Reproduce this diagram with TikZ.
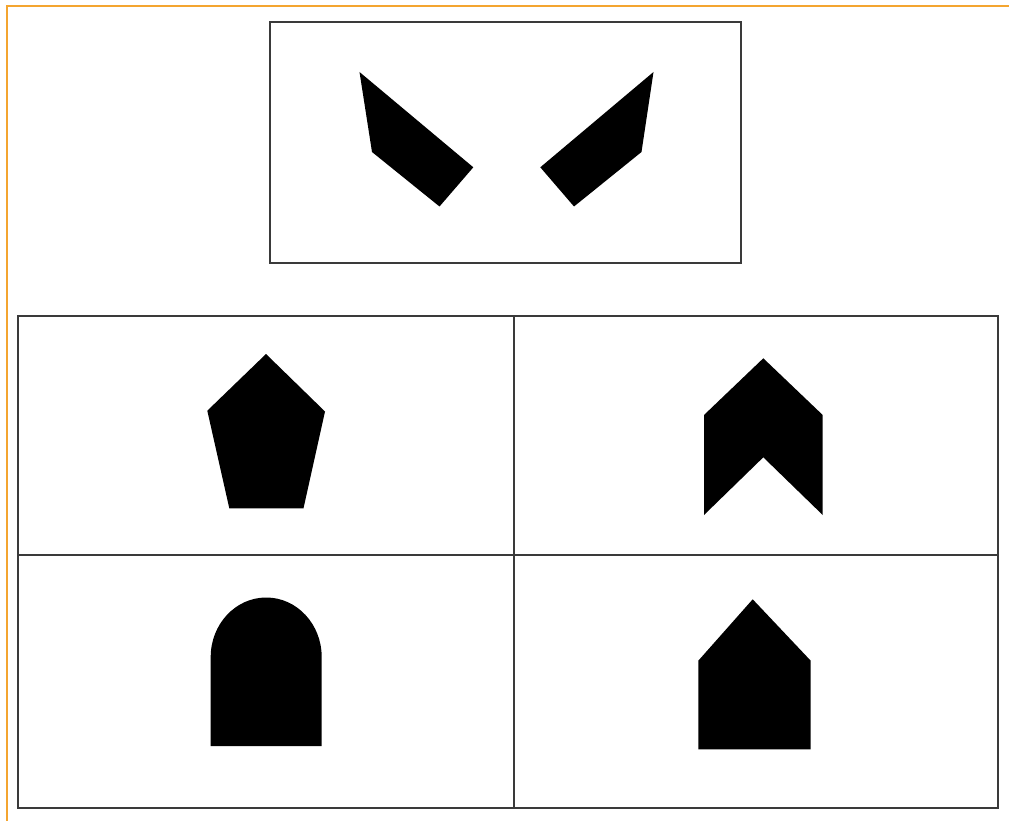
\documentclass[tikz,border=0pt]{standalone}
\definecolor{frameorange}{HTML}{F4A530}
\definecolor{boxgray}{HTML}{3A3A3A}
\begin{document}
\begin{tikzpicture}[x=1pt,y=-1pt,
  panel/.style={draw=boxgray,line width=1.3pt},
  shapefill/.style={fill=black,draw=none},
  orangeline/.style={draw=frameorange,line width=1.8pt}]
\useasboundingbox (0,0) rectangle (1009,821);
\fill[white] (0,0) rectangle (1009,821);
% orange frame edges
\draw[orangeline] (7,821) -- (7,6) -- (1009,6);
% top panel
\draw[panel] (270,22) rectangle (741,263);
\fill[shapefill] (359.5,72) -- (372,152) -- (439.5,206.5) -- (473.3,167.3) -- cycle;
\fill[shapefill] (653.5,72) -- (641.5,152) -- (574,206.5) -- (540.3,167.3) -- cycle;
% grid
\draw[panel] (18,316) rectangle (998,808);
\draw[panel] (514,316) -- (514,808);
\draw[panel] (18,555) -- (998,555);
% pentagon
\fill[shapefill] (266,354) -- (325,411.5) -- (303.5,508.3) -- (229.3,508.3) -- (207.3,410.7) -- cycle;
% chevron
\fill[shapefill] (763.3,358.3) -- (822.7,415) -- (822.7,515) -- (763.3,457.3) -- (704,515) -- (704,415) -- cycle;
% arch
\fill[shapefill] (210.7,746) -- (210.7,657) arc[start angle=180,end angle=0,x radius=55.5,y radius=-59.5] -- (321.7,746) -- cycle;
% house
\fill[shapefill] (752.7,599.3) -- (810.7,660.7) -- (810.7,749.3) -- (698.3,749.3) -- (698.3,660.7) -- cycle;
\end{tikzpicture}
\end{document}
